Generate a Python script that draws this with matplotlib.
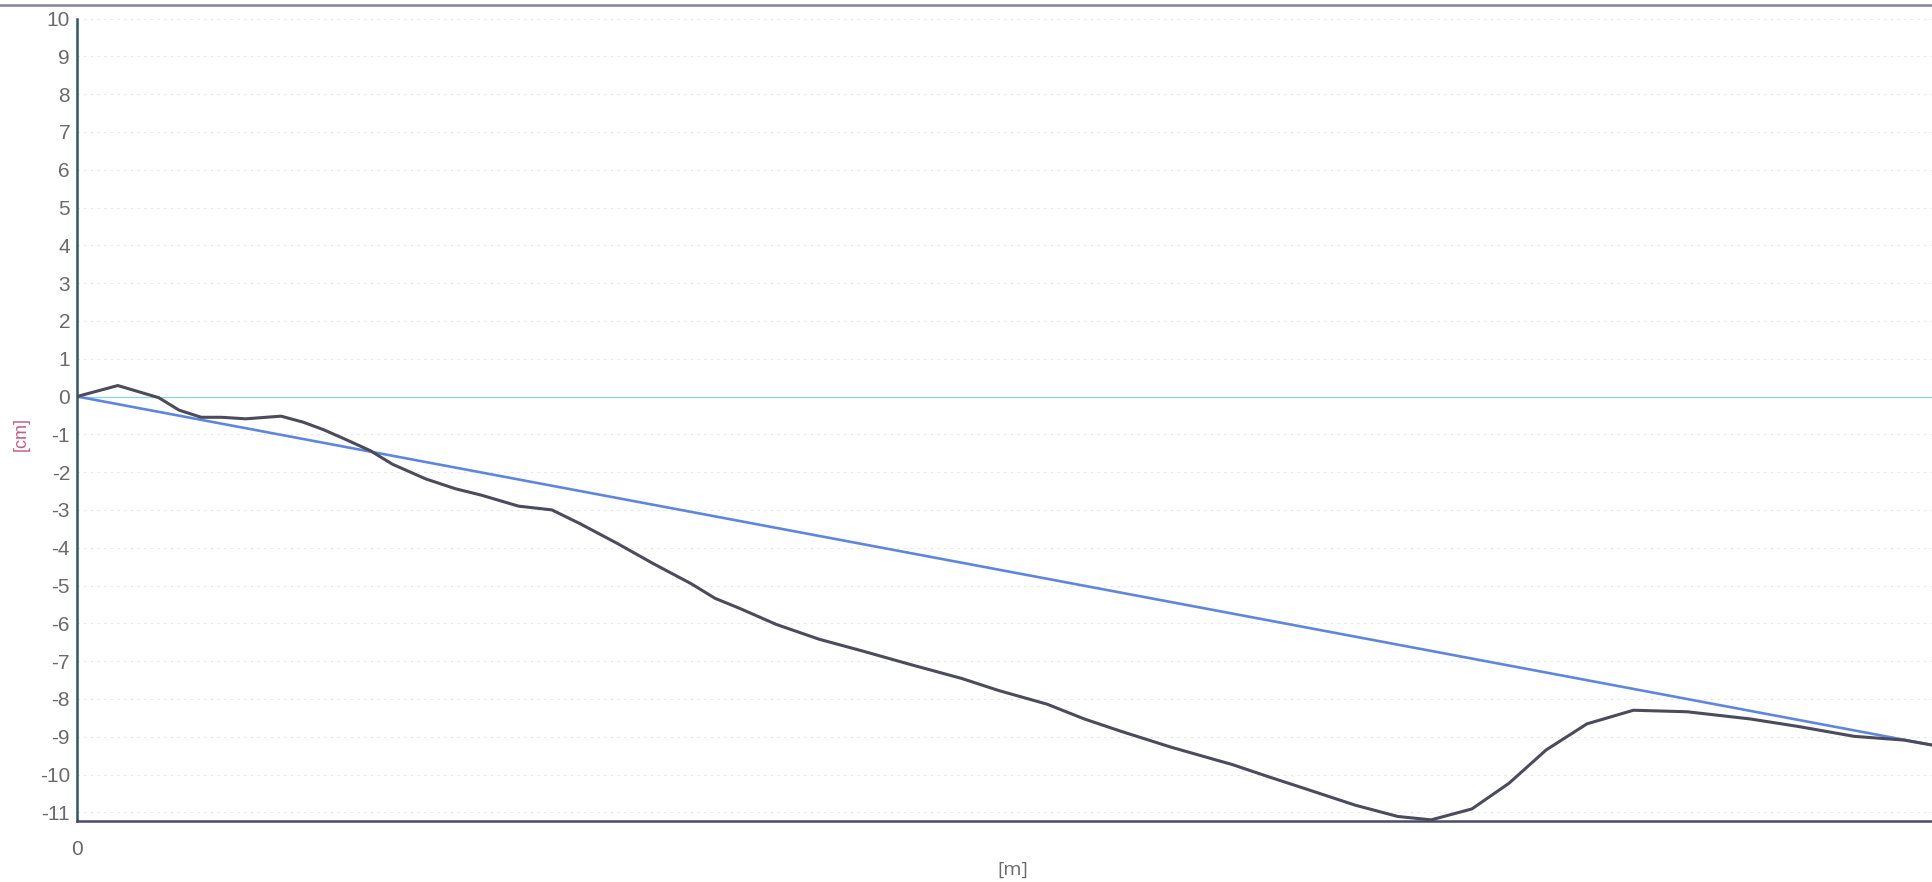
import matplotlib
matplotlib.use("Agg")
import matplotlib.pyplot as plt
from matplotlib.lines import Line2D

# distance [m] (arbitrary scale, axis shows only 0)
dist = [0.0, 1.1, 2.2, 2.75, 3.35, 3.9, 4.55, 5.5, 6.1, 6.65, 7.25, 7.9, 8.5, 9.4,
        10.2, 10.9, 11.9, 12.8, 13.55, 14.55, 15.55, 16.55, 17.2, 17.85, 18.85,
        20.0, 21.2, 22.5, 23.85, 24.85, 26.15, 27.15, 28.15, 29.5, 31.15, 32.15,
        33.15, 34.45, 35.6, 36.5, 37.6, 38.6, 39.6, 40.7, 41.95, 43.4, 45.1, 46.4,
        47.9, 49.25, 50.0]
profile = [0.0, 0.29, -0.03, -0.36, -0.55, -0.55, -0.59, -0.52, -0.68, -0.88, -1.14,
           -1.43, -1.79, -2.18, -2.44, -2.61, -2.9, -3.0, -3.36, -3.88, -4.43, -4.95,
           -5.34, -5.6, -6.03, -6.42, -6.74, -7.1, -7.46, -7.78, -8.14, -8.53, -8.86,
           -9.28, -9.74, -10.07, -10.39, -10.81, -11.11, -11.2, -10.91, -10.23, -9.35,
           -8.66, -8.3, -8.34, -8.53, -8.73, -8.99, -9.09, -9.22]
ref_x = [0.0, 50.0]
ref_y = [0.0, -9.22]
yticks = list(range(-11, 11))

plt.rcParams["font.family"] = ["Liberation Sans", "DejaVu Sans"]

W, H = 1932, 882
fig = plt.figure(figsize=(W / 100, H / 100), dpi=100)
left = 77 / W
bottom = 1 - 821 / H
top = 1 - 18.5 / H
ax = fig.add_axes([left, bottom, 1 - left, top - bottom])

ax.set_xlim(0, 50)
ax.set_ylim(-11.23, 10)

for yv in yticks:
    ax.axhline(yv, color="#e6e6e6", lw=0.8, ls=(0, (2, 4)), zorder=0)
ax.axhline(0, color="#8fd6df", lw=1.0, zorder=1)

ax.plot(ref_x, ref_y, color="#5f86dc", lw=1.9, zorder=2)
ax.plot(dist, profile, color="#4b4b5c", lw=2.2, zorder=3)

ax.set_yticks(yticks)
ax.set_yticklabels([str(v) for v in yticks])
ax.set_xticks([0])
ax.set_xticklabels(["0"])
ax.tick_params(axis="both", length=0, labelsize=15, labelcolor="#6a6a6a")
ax.tick_params(axis="y", pad=5)
ax.tick_params(axis="x", pad=14)

for s in ["top", "right"]:
    ax.spines[s].set_visible(False)
ax.spines["left"].set_color("#2f5866")
ax.spines["left"].set_linewidth(1.8)
ax.spines["bottom"].set_color("#4a4a6e")
ax.spines["bottom"].set_linewidth(1.8)

fig.text(21 / W, 1 - 434 / H, "[cm]", rotation=90, ha="center", va="center",
         fontsize=13, color="#c06080")
fig.text(1013 / W, 1 - 870 / H, "[m]", ha="center", va="center",
         fontsize=14, color="#6a6a6a", family=["Open Sans", "DejaVu Sans"])

fig.add_artist(Line2D([0, 1], [1 - 5 / H, 1 - 5 / H], transform=fig.transFigure,
                      color="#8a7fa8", lw=1.8))

fig.savefig("out.png", dpi=100)
